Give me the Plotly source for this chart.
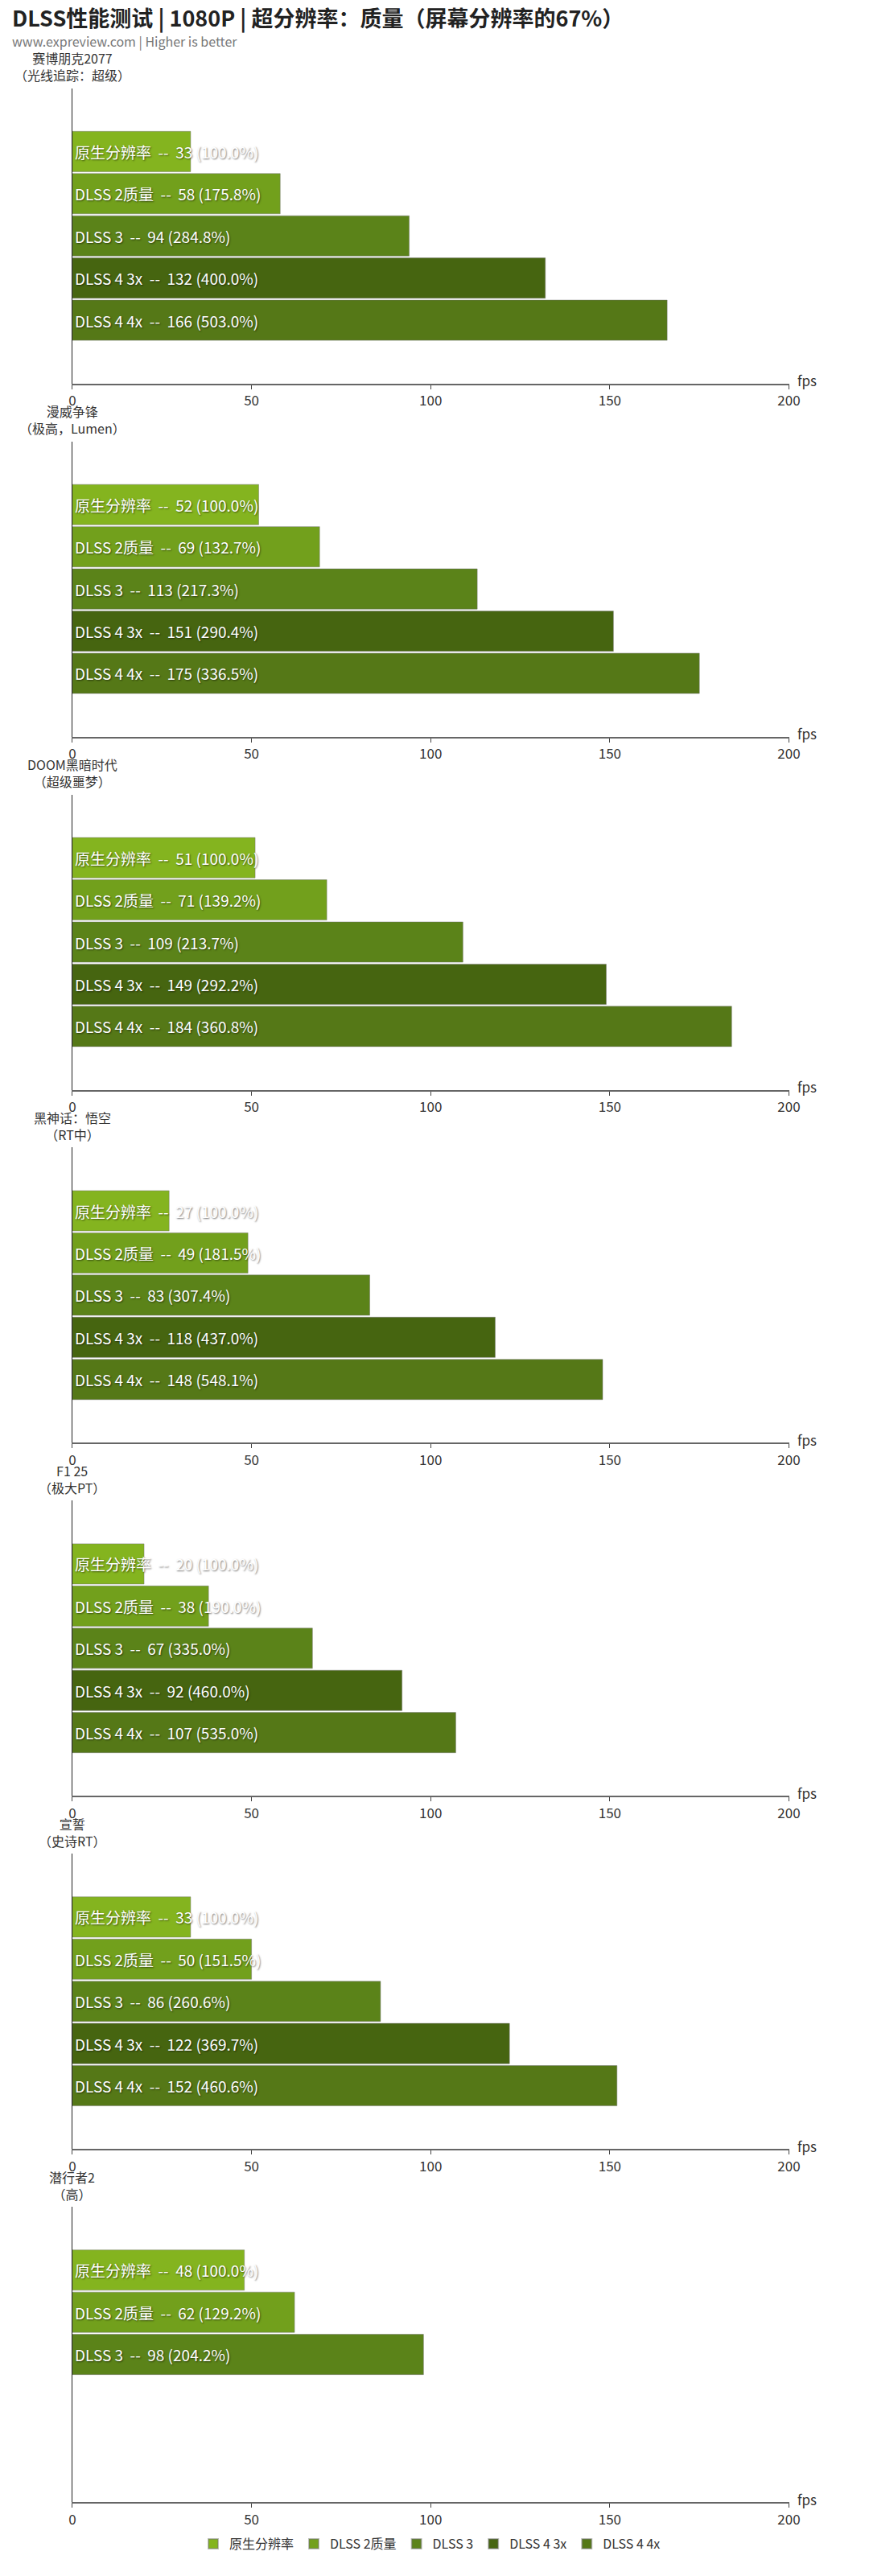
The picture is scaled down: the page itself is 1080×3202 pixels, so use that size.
import plotly.graph_objects as go

W, H = 1080, 3202
FONT = "Noto Sans CJK SC, Noto Sans, sans-serif"

series = ["原生分辨率", "DLSS 2质量", "DLSS 3", "DLSS 4 3x", "DLSS 4 4x"]
colors = ["#84b41f", "#72a01c", "#5b8319", "#466510", "#557817"]

games = ["赛博朋克2077", "漫威争锋", "DOOM黑暗时代", "黑神话：悟空", "F1 25", "宣誓", "潜行者2"]
settings = ["（光线追踪：超级）", "（极高，Lumen）", "（超级噩梦）", "（RT中）", "（极大PT）", "（史诗RT）", "（高）"]

fps_cyberpunk = [33, 58, 94, 132, 166]
pct_cyberpunk = [100.0, 175.8, 284.8, 400.0, 503.0]
fps_rivals = [52, 69, 113, 151, 175]
pct_rivals = [100.0, 132.7, 217.3, 290.4, 336.5]
fps_doom = [51, 71, 109, 149, 184]
pct_doom = [100.0, 139.2, 213.7, 292.2, 360.8]
fps_wukong = [27, 49, 83, 118, 148]
pct_wukong = [100.0, 181.5, 307.4, 437.0, 548.1]
fps_f125 = [20, 38, 67, 92, 107]
pct_f125 = [100.0, 190.0, 335.0, 460.0, 535.0]
fps_avowed = [33, 50, 86, 122, 152]
pct_avowed = [100.0, 151.5, 260.6, 369.7, 460.6]
fps_stalker2 = [48, 62, 98]
pct_stalker2 = [100.0, 129.2, 204.2]

fps_all = [fps_cyberpunk, fps_rivals, fps_doom, fps_wukong, fps_f125, fps_avowed, fps_stalker2]
pct_all = [pct_cyberpunk, pct_rivals, pct_doom, pct_wukong, pct_f125, pct_avowed, pct_stalker2]

x_ticks = [0, 50, 100, 150, 200]

fig = go.Figure()

X0, X1 = 86.5, 993
first_bottom = 476.7
pitch = 438.9
plot_h = 367
SP = "\u00a0\u00a0"

annotations = []
layout_axes = {}
for k in range(len(games)):
    bottom = first_bottom + pitch * k
    top = bottom - plot_h
    idx = "" if k == 0 else str(k + 1)
    xa, ya = "x" + idx, "y" + idx
    layout_axes["xaxis" + idx] = dict(
        domain=[X0 / W, X1 / W], range=[0, 200], tickvals=x_ticks,
        showline=True, linecolor="#666", linewidth=2,
        ticks="outside", ticklen=5, tickcolor="#444", tickwidth=1,
        showgrid=False, zeroline=False, anchor=ya,
        tickfont=dict(family=FONT, size=17, color="#333"),
        fixedrange=True,
    )
    layout_axes["yaxis" + idx] = dict(
        domain=[1 - bottom / H, 1 - top / H], type="category",
        categoryorder="array", categoryarray=series,
        range=[5.5, -1.5], showticklabels=False, ticks="",
        showline=True, linecolor="#222", linewidth=1,
        showgrid=False, zeroline=False, anchor=xa, fixedrange=True,
    )
    for i, (v, p) in enumerate(zip(fps_all[k], pct_all[k])):
        fig.add_trace(go.Bar(
            x=[v], y=[series[i]], orientation="h",
            marker=dict(color=colors[i], line=dict(color="rgba(110,110,110,0.45)", width=1)),
            width=0.955,
            text=[f"{series[i]}{SP}--{SP}{v} ({p:.1f}%)"],
            textposition="inside", insidetextanchor="start", textangle=0,
            constraintext="none", cliponaxis=False,
            textfont=dict(family=FONT, size=19, color="white",
                          shadow="1px 1px 2px rgba(0,0,0,0.55)"),
            name=series[i], legendgroup=series[i], showlegend=(k == 0),
            xaxis=xa, yaxis=ya, hoverinfo="skip",
        ))
    annotations.append(dict(
        text="fps", xref=xa, yref=ya + " domain", x=200, y=0,
        xanchor="left", yanchor="middle", xshift=8, yshift=4, showarrow=False,
        font=dict(family=FONT, size=17, color="#333"),
    ))
    annotations.append(dict(
        text=games[k] + "<br>" + settings[k], xref=xa, yref=ya + " domain", x=0, y=1,
        xanchor="center", yanchor="middle", align="center", yshift=27, showarrow=False,
        font=dict(family=FONT, size=16, color="#333"),
    ))

annotations.append(dict(
    text="<b>DLSS性能测试 | 1080P | 超分辨率：质量（屏幕分辨率的67%）</b>",
    xref="paper", yref="paper", x=8 / W, y=1 - 21 / H, xanchor="left", yanchor="middle",
    showarrow=False, font=dict(family=FONT, size=27, color="#222"),
))
annotations.append(dict(
    text="www.expreview.com | Higher is better",
    xref="paper", yref="paper", x=8 / W, y=1 - 51 / H, xanchor="left", yanchor="middle",
    showarrow=False, font=dict(family=FONT, size=16, color="#777"),
))

fig.update_layout(
    width=W, height=H,
    margin=dict(l=0, r=0, t=0, b=0),
    paper_bgcolor="white", plot_bgcolor="white",
    barmode="overlay",
    showlegend=True,
    legend=dict(orientation="h", x=0.5, xanchor="center", y=1 - 3162 / H, yanchor="middle",
                font=dict(family=FONT, size=16, color="#333"), itemsizing="constant",
                bgcolor="rgba(0,0,0,0)"),
    annotations=annotations,
    font=dict(family=FONT),
    **layout_axes,
)

fig.write_html("out.html")
